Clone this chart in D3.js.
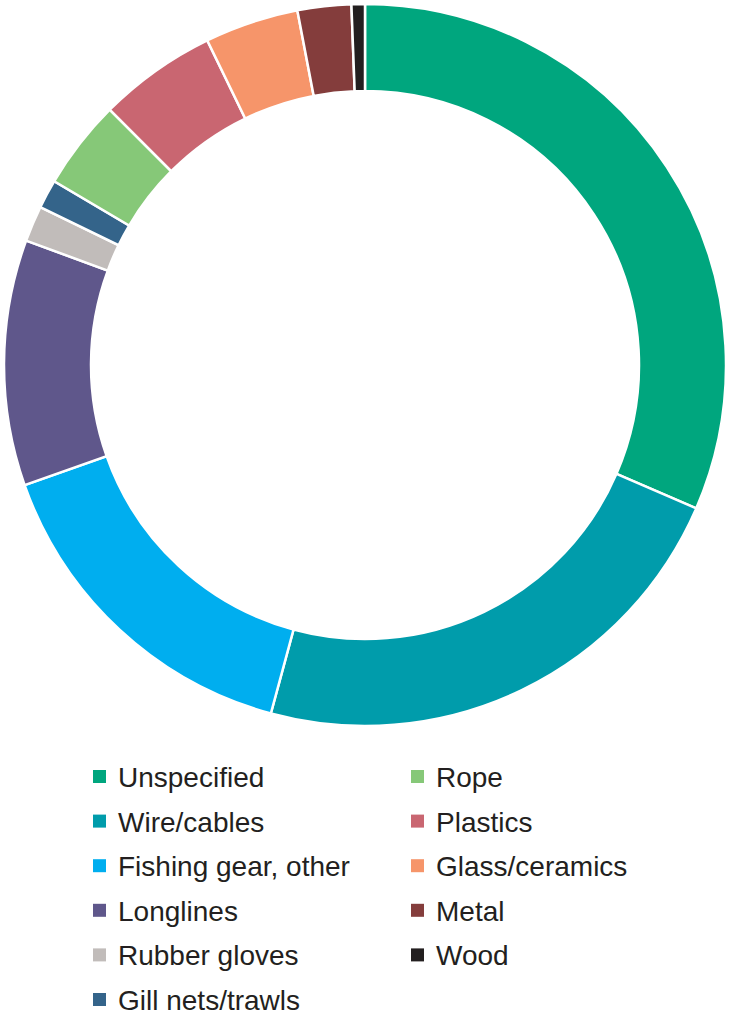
<!DOCTYPE html>
<html>
<head>
<meta charset="utf-8">
<script src="https://cdn.jsdelivr.net/npm/d3@7"></script>
<style>
  body { margin: 0; background: #fff; }
  svg { display: block; }
</style>
</head>
<body>
<div id="wrapper"></div>
<script>
// Data (share of items, %)
const categories = ["Unspecified", "Wire/cables", "Fishing gear, other", "Longlines",
    "Rubber gloves", "Gill nets/trawls", "Rope", "Plastics", "Glass/ceramics", "Metal", "Wood"];
const values = [31.5, 22.7, 15.4, 11.0, 1.6, 1.3, 4.0, 5.3, 4.2, 2.4, 0.6];
const colors = ["#00a67e", "#009cab", "#00aeef", "#5f578b", "#c1bcba", "#34648a",
    "#86c878", "#c96671", "#f6956a", "#843d3c", "#231f20"];

function buildChart() {
    const dimension = {
        width: 730,
        height: 1018,
        cx: 365,
        cy: 365,
        outer: 361,
        inner: 274,
    }

    const wrapper = d3.select("#wrapper")
        .append("svg")
        .attr("width", dimension.width)
        .attr("height", dimension.height)

    const data = categories.map((c, i) => ({ name: c, value: values[i], color: colors[i] }));

    // Pie keeps the original order, starting at 12 o'clock going clockwise
    const pie = d3.pie()
        .sort(null)
        .value(d => d.value);

    const arc = d3.arc()
        .innerRadius(dimension.inner)
        .outerRadius(dimension.outer);

    const ring = wrapper.append("g")
        .attr("transform", `translate(${dimension.cx},${dimension.cy})`)

    ring.selectAll("path")
        .data(pie(data))
        .join("path")
        .attr("d", arc)
        .attr("fill", d => d.data.color)
        .attr("stroke", "#fff")
        .attr("stroke-width", 2.5)
        .attr("stroke-linejoin", "miter");

    // Legend: two columns, first six items on the left
    const legend = wrapper.append("g")
        .style("font-family", "'Liberation Sans', Arial, Helvetica, sans-serif")
        .style("font-size", "28px")
        .attr("fill", "#231f20")

    const colX = [93, 411];
    const rowY = 787, rowGap = 44.6;

    const item = legend.selectAll("g")
        .data(data)
        .join("g")
        .attr("transform", (d, i) => {
            const col = i < 6 ? 0 : 1;
            const row = i < 6 ? i : i - 6;
            return `translate(${colX[col]},${rowY + row * rowGap})`;
        })

    item.append("rect")
        .attr("x", 0)
        .attr("y", -17)
        .attr("width", 13)
        .attr("height", 13)
        .attr("fill", d => d.color);

    item.append("text")
        .attr("x", 25)
        .attr("y", 0)
        .text(d => d.name);
}

buildChart()
</script>
</body>
</html>
